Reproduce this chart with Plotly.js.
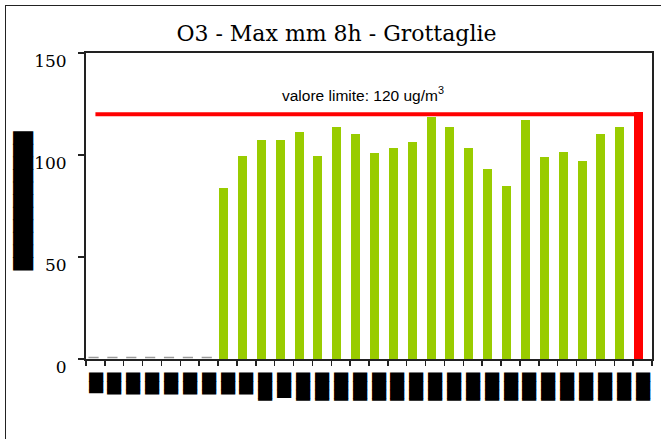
<!DOCTYPE html>
<html>
<head>
<meta charset="utf-8">
<script src="https://cdn.plot.ly/plotly-3.0.1.min.js"></script>
<style>
  html, body { margin: 0; padding: 0; background: #fff; }
  #wrap { position: relative; width: 661px; height: 439px; overflow: hidden; }
  #chart { position: absolute; left: 0; top: 0; width: 661px; height: 439px; }
  #frame { position: absolute; left: 5px; top: 5px; width: 700px; height: 500px;
           border-left: 1.5px solid #222; border-top: 1.5px solid #222; pointer-events: none; }
</style>
</head>
<body>
<div id="wrap"><div id="chart"></div><div id="frame"></div></div>
<script>
// Categories: days of the month
const days = ["1","2","3","4","5","6","7","8","9","10","11","12","13","14","15",
              "16","17","18","19","20","21","22","23","24","25","26","27","28","29","30"];
// O3 max 8h moving mean (ug/m3); 0 = no data
const o3Values = [0, 0, 0, 0, 0, 0, 0, 84, 99.5, 107.5, 107.5, 111.5, 99.5, 113.5, 110.5,
                  101, 103.5, 106.5, 118.5, 113.5, 103.5, 93, 85, 117, 99, 101.5, 97, 110.5, 113.5, 121];
// Limit value series
const limitValues = [120, 120, 120, 120, 120, 120, 120, 120, 120, 120, 120, 120, 120, 120, 120,
                     120, 120, 120, 120, 120, 120, 120, 120, 120, 120, 120, 120, 120, 120, 120];
const limitLabel = "valore limite: 120 ug/m<sup>3</sup>";
const chartTitle = "O3 - Max mm 8h - Grottaglie";
// Tick labels as they appear in the reference (unreadable, drawn as solid black blocks)
const tickLabels = ["██▍","██▌","██▌","██▌","██▌","██▌","██▌","██▌","██▌","███▎",
                    "██▉","███▎","███▎","███▎","███▎","███▎","███▎","███▎","███▎","███▎",
                    "███▎","███▎","███▎","███▎","███▎","███▎","███▎","███▎","███▎","███▎"];
const yTitle = "\u00A0\u00A0███████████";

const LIMIT = 120;
const barColors = o3Values.map(v => v > LIMIT ? "#FF0000" : "#99CC00");
const tight = s => '<span style="letter-spacing:-0.5px">' + s + '</span>';

const traces = [
  {
    type: "bar",
    x: days,
    y: o3Values,
    marker: { color: barColors, line: { width: 0 } },
    offset: -0.447,
    width: 0.477,
    hoverinfo: "x+y",
    showlegend: false
  },
  {
    type: "scatter",
    mode: "lines",
    x: days,
    y: limitValues,
    line: { color: "#FF0000", width: 4 },
    hoverinfo: "y",
    showlegend: false
  }
];

// grey dashes for zero (missing) days
const shapes = [];
o3Values.forEach((v, i) => {
  if (v === 0) {
    shapes.push({
      type: "line", xref: "x", yref: "y",
      x0: i - 0.37, x1: i + 0.17,
      ysizemode: "pixel", yanchor: 0, y0: 1.5, y1: 1.5,
      line: { color: "#999999", width: 1.5 }
    });
  }
});

const layout = {
  width: 661,
  height: 439,
  margin: { l: 86, r: 9, t: 53, b: 80, pad: 0 },
  paper_bgcolor: "#ffffff",
  plot_bgcolor: "#ffffff",
  showlegend: false,
  title: {
    text: chartTitle,
    font: { family: "DejaVu Serif", size: 22, color: "#000" },
    x: 0.509, xref: "container", xanchor: "center",
    y: 0.924, yref: "container", yanchor: "middle"
  },
  bargap: 0,
  xaxis: {
    type: "category",
    range: [-0.5, 29.5],
    tickmode: "array",
    tickvals: days,
    ticktext: tickLabels.map(tight),
    tickson: "boundaries",
    ticks: "outside",
    ticklen: 5,
    tickwidth: 1.5,
    tickcolor: "#222",
    tickangle: 90,
    ticklabelstandoff: 9,
    tickfont: { family: "DejaVu Sans", size: 12, color: "#000" },
    showline: true, linewidth: 2, linecolor: "#222", mirror: true,
    showgrid: false, zeroline: false,
    fixedrange: true, automargin: false
  },
  yaxis: {
    range: [0, 150],
    tickmode: "array",
    tickvals: [0, 50, 100, 150],
    ticktext: ["0", "50", "100", "150"],
    ticks: "outside",
    ticklen: 6,
    tickwidth: 1.5,
    tickcolor: "#222",
    tickfont: { family: "DejaVu Serif", size: 17, color: "#000" },
    ticklabelstandoff: 8,
    ticklabelshift: 8,
    showline: true, linewidth: 2, linecolor: "#222", mirror: true,
    showgrid: false, zeroline: false,
    title: { text: tight(yTitle), font: { family: "DejaVu Sans", size: 17, color: "#000" }, standoff: 0 },
    fixedrange: true, automargin: false
  },
  shapes: shapes,
  annotations: [
    {
      xref: "x", yref: "y",
      x: 14.2, y: 130,
      text: limitLabel,
      showarrow: false,
      font: { family: "Liberation Sans", size: 15.5, color: "#000" },
      xanchor: "center", yanchor: "middle"
    }
  ]
};

Plotly.newPlot("chart", traces, layout, { displayModeBar: false, staticPlot: true });
</script>
</body>
</html>
